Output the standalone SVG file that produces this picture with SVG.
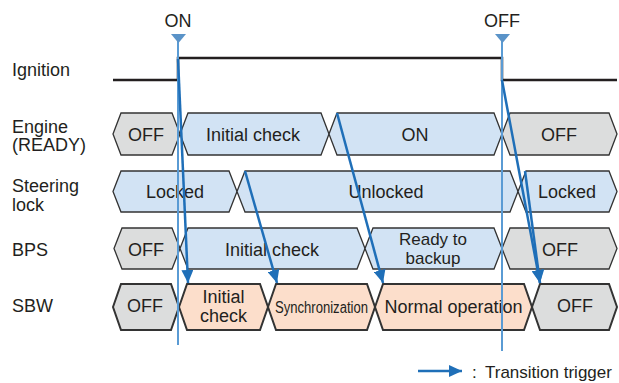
<svg xmlns="http://www.w3.org/2000/svg" width="619" height="383" viewBox="0 0 619 383">
<style>
text{font-family:"Liberation Sans",Arial,sans-serif;font-size:18px;fill:#231f20}
.c{text-anchor:middle}
.g{fill:#dcdddd;stroke:#333;stroke-width:1.3}
.b{fill:#d2e3f4;stroke:#333;stroke-width:1.3}
.p{fill:#fcdecb;stroke:#333;stroke-width:1.3}
.s{stroke-width:2}
.sig{fill:none;stroke:#231f20;stroke-width:2.5}
.vl{stroke:#5a9bd4;stroke-width:2;fill:none}
.tri{fill:#5a93c8}
.ar{stroke:#1f6fb8;stroke-width:2.5;fill:none;marker-end:url(#ah)}
</style>
<defs>
<marker id="ah" markerUnits="userSpaceOnUse" markerWidth="14" markerHeight="12" refX="13" refY="6" orient="auto">
<path d="M0,0 L13,6 L0,12 Z" fill="#1f6fb8"/>
</marker>
</defs>

<g id="labels">
<text x="12" y="76">Ignition</text>
<text x="12" y="133">Engine</text>
<text x="12" y="151">(READY)</text>
<text x="12" y="192">Steering</text>
<text x="12" y="211">lock</text>
<text x="12" y="256">BPS</text>
<text x="12" y="312">SBW</text>
<text x="178" y="27" class="c">ON</text>
<text x="502" y="27" class="c">OFF</text>
</g>

<g id="ignition">
<path class="sig" d="M113,80 H178 V58 H502 V80 H617"/>
</g>

<g id="engine">
<g id="engine-off1"><polygon class="g" points="113,134 121,113 172,113 180,134 172,155 121,155"/><text x="146" y="141" class="c">OFF</text></g>
<g id="engine-init"><polygon class="b" points="180,134 188,113 321,113 329,134 321,155 188,155"/><text x="253" y="141" class="c">Initial check</text></g>
<g id="engine-on"><polygon class="b" points="329,134 337,113 494,113 502,134 494,155 337,155"/><text x="415" y="141" class="c">ON</text></g>
<g id="engine-off2"><polygon class="g" points="502,134 510,113 609,113 617,134 609,155 510,155"/><text x="559" y="141" class="c">OFF</text></g>
</g>

<g id="steering">
<g id="steer-locked1"><polygon class="b" points="113,191.5 121,171 229,171 237,191.5 229,212 121,212"/><text x="175" y="198" class="c">Locked</text></g>
<g id="steer-unlocked"><polygon class="b" points="237,191.5 245,171 510,171 518,191.5 510,212 245,212"/><text x="386" y="198" class="c">Unlocked</text></g>
<g id="steer-locked2"><polygon class="b" points="518,191.5 526,171 609,171 617,191.5 609,212 526,212"/><text x="567" y="198" class="c">Locked</text></g>
</g>

<g id="bps">
<g id="bps-off1"><polygon class="g" points="114,248.5 122,228 172,228 180,248.5 172,269 122,269"/><text x="146" y="256" class="c">OFF</text></g>
<g id="bps-init"><polygon class="b" points="180,248.5 188,228 357,228 365,248.5 357,269 188,269"/><text x="272" y="256" class="c">Initial check</text></g>
<g id="bps-ready"><polygon class="b" points="365,248.5 373,228 494,228 502,248.5 494,269 373,269"/><text x="433" y="245" class="c" style="font-size:17px">Ready to</text><text x="433" y="263.5" class="c" style="font-size:17px">backup</text></g>
<g id="bps-off2"><polygon class="g" points="502,248.5 510,228 609,228 617,248.5 609,269 510,269"/><text x="560" y="256" class="c">OFF</text></g>
</g>

<g id="sbw">
<g id="sbw-off1"><polygon class="g s" points="113,307 121,284 171,284 179,307 171,330 121,330"/><text x="145" y="312" class="c">OFF</text></g>
<g id="sbw-init"><polygon class="p s" points="179,307 187,284 260,284 268,307 260,330 187,330"/><text x="223.5" y="303" class="c">Initial</text><text x="223.5" y="322" class="c">check</text></g>
<g id="sbw-sync"><polygon class="p s" points="268,307 276,284 367,284 375,307 367,330 276,330"/><text x="321.5" y="313" class="c" style="font-size:16px" textLength="93" lengthAdjust="spacingAndGlyphs">Synchronization</text></g>
<g id="sbw-normal"><polygon class="p s" points="375,307 383,284 524,284 532,307 524,330 383,330"/><text x="453.5" y="313" class="c">Normal operation</text></g>
<g id="sbw-off2"><polygon class="g s" points="532,307 540,284 609,284 617,307 609,330 540,330"/><text x="575" y="312" class="c">OFF</text></g>
</g>

<g id="markers">
<line class="vl" x1="178" y1="36" x2="178" y2="345"/>
<polygon class="tri" points="171,34 186,34 178.5,43"/>
<line class="vl" x1="502" y1="36" x2="502" y2="351"/>
<polygon class="tri" points="495,34 510,34 502.5,43"/>
</g>

<g id="connectors">
<line class="ar" x1="178" y1="59" x2="188" y2="283"/>
<line class="ar" x1="245" y1="171" x2="277" y2="283"/>
<line class="ar" x1="337" y1="113" x2="383" y2="283"/>
<line class="ar" x1="502" y1="80" x2="540" y2="283"/>
<line class="ar" x1="525" y1="171" x2="540" y2="283"/>
</g>

<g id="legend">
<line class="ar" x1="418" y1="371" x2="462" y2="371"/>
<text x="472" y="378" style="font-size:17px">:</text>
<text x="485" y="378" style="font-size:17px">Transition trigger</text>
</g>
</svg>
